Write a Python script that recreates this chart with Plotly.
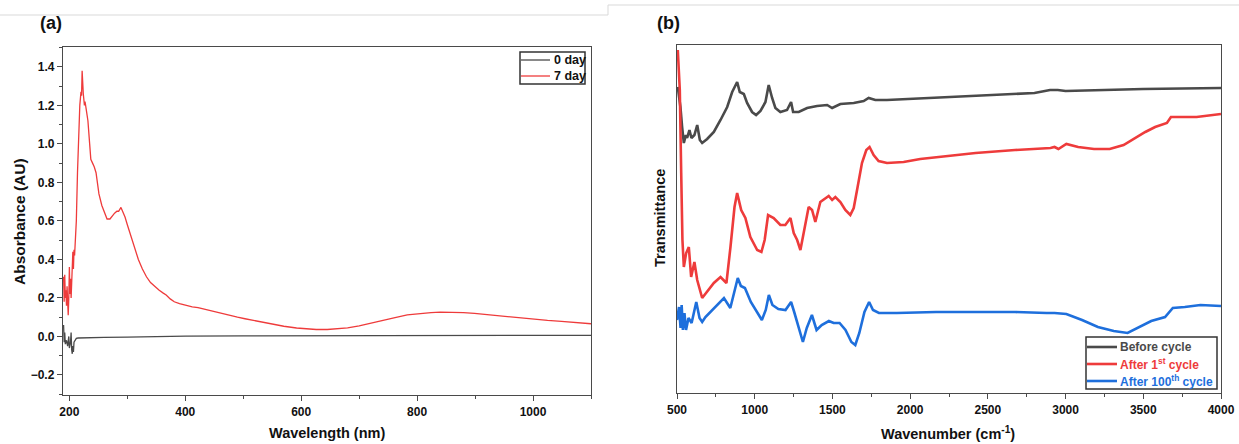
import plotly.graph_objects as go

# ---------------- Panel (a): UV-Vis absorbance ----------------
wl_0day = [190, 191, 192, 193, 195, 197, 199, 200, 202, 203, 204, 205, 206, 207, 208,
           210, 212, 215, 230, 260, 300, 340, 400, 500, 600, 700, 800, 900, 1000, 1100]
abs_0day = [0.06, -0.03, 0.02, -0.04, -0.02, -0.05, 0.0, -0.06, -0.03, 0.02, -0.07, -0.09,
            -0.05, -0.08, -0.03, -0.02, -0.01, -0.008, -0.006, -0.005, -0.003, 0.0, 0.002,
            0.003, 0.004, 0.005, 0.005, 0.006, 0.006, 0.006]

wl_7day = [190, 191, 192, 193, 194, 195, 196, 197, 198, 199, 200, 201, 202, 203, 204, 205,
           206, 207, 208, 209, 210, 212, 214, 216, 218, 220, 221, 222, 223, 224, 226, 227,
           229, 232, 235, 237, 240, 243, 246, 251, 256, 260, 265, 270, 275, 278, 282, 285,
           289, 292, 296, 300, 306, 312, 319, 326, 333, 340, 347, 355, 362, 367, 374, 381,
           390, 401, 412, 422, 435, 449, 462, 476, 490, 503, 520, 544, 570, 592, 610, 626,
           645, 660, 680, 700, 735, 760, 783, 805, 824, 840, 858, 880, 899, 925, 954, 980,
           1001, 1025, 1049, 1075, 1100]
abs_7day = [0.31, 0.18, 0.32, 0.20, 0.24, 0.16, 0.26, 0.12, 0.11, 0.20, 0.36, 0.22, 0.30,
            0.20, 0.28, 0.34, 0.44, 0.35, 0.45, 0.42, 0.47, 0.60, 0.85, 1.10, 1.20, 1.27,
            1.25, 1.38, 1.29, 1.26, 1.20, 1.22, 1.18, 1.12, 1.00, 0.92, 0.90, 0.88, 0.85,
            0.74, 0.68, 0.65, 0.61, 0.61, 0.63, 0.64, 0.65, 0.65, 0.67, 0.65, 0.62, 0.58,
            0.52, 0.46, 0.40, 0.35, 0.31, 0.28, 0.26, 0.24, 0.225, 0.215, 0.195, 0.18, 0.17,
            0.16, 0.154, 0.15, 0.14, 0.13, 0.118, 0.108, 0.10, 0.092, 0.082, 0.066, 0.053,
            0.044, 0.039, 0.036, 0.036, 0.039, 0.045, 0.055, 0.077, 0.096, 0.112, 0.12,
            0.124, 0.126, 0.126, 0.124, 0.12, 0.112, 0.102, 0.094, 0.088, 0.083, 0.078,
            0.072, 0.066]

# ---------------- Panel (b): FTIR transmittance (arbitrary units) ----------------
wn_before = [505, 522, 533, 544, 557, 565, 580, 593, 612, 630, 647, 662, 694, 737, 780, 823,
             855, 887, 904, 930, 951, 983, 1009, 1037, 1069, 1090, 1112, 1133, 1165, 1208,
             1234, 1247, 1283, 1337, 1401, 1466, 1498, 1551, 1637, 1701, 1733, 1776, 1851,
             2000, 2065, 2500, 2800, 2900, 2950, 3000, 3200, 3500, 4000]
t_before = [306, 286, 266, 250, 258, 255, 263, 255, 258, 268, 253, 250, 254, 261, 273, 286,
            301, 311, 301, 299, 290, 281, 278, 282, 291, 308, 295, 285, 281, 283, 291, 281,
            281, 285, 287, 288, 285, 289, 290, 292, 295, 293, 293, 294, 295, 298, 300, 303,
            303, 302, 303, 304, 305]

wn_1st = [505, 518, 527, 535, 544, 559, 576, 591, 612, 630, 662, 694, 737, 780, 818, 844,
          870, 887, 913, 940, 972, 1016, 1043, 1064, 1086, 1122, 1165, 1197, 1230, 1251,
          1273, 1294, 1320, 1347, 1369, 1390, 1422, 1448, 1476, 1498, 1519, 1551, 1583,
          1615, 1637, 1662, 1690, 1718, 1739, 1765, 1797, 1851, 1958, 2065, 2421, 2675,
          2903, 2929, 2954, 3005, 3081, 3183, 3284, 3373, 3436, 3513, 3576, 3652, 3678,
          3741, 3843, 4000]
t_1st = [343, 303, 220, 153, 126, 140, 146, 116, 131, 113, 95, 101, 110, 116, 110, 146,
         186, 200, 183, 175, 156, 143, 141, 153, 178, 175, 168, 168, 175, 160, 153, 143,
         166, 186, 183, 171, 191, 194, 197, 193, 196, 191, 183, 178, 185, 206, 230, 243,
         246, 238, 232, 230, 231, 234, 240, 243, 245, 246, 244, 249, 246, 244, 244, 248,
         254, 261, 266, 270, 276, 276, 276, 279]

wn_100th = [500, 513, 523, 530, 538, 548, 558, 574, 594, 624, 645, 662, 683, 746, 802, 843,
            873, 891, 911, 937, 975, 1013, 1046, 1071, 1091, 1114, 1152, 1198, 1234, 1254,
            1279, 1310, 1335, 1368, 1398, 1431, 1477, 1508, 1546, 1584, 1622, 1647, 1673,
            1706, 1736, 1761, 1799, 1914, 2167, 2421, 2675, 2878, 2929, 3005, 3106, 3208,
            3310, 3399, 3462, 3551, 3640, 3690, 3767, 3868, 4000]
t_100th = [73, 86, 65, 88, 63, 80, 63, 75, 70, 91, 75, 71, 76, 86, 95, 85, 103, 115, 107,
           105, 91, 81, 73, 83, 98, 88, 84, 83, 91, 81, 68, 51, 65, 78, 63, 68, 72, 70, 70,
           63, 51, 48, 60, 81, 91, 83, 80, 80, 81, 81, 81, 80, 80, 79, 73, 66, 62, 60, 65,
           72, 76, 85, 86, 88, 87]

a_xticks = [200, 400, 600, 800, 1000]
b_xticks = [500, 1000, 1500, 2000, 2500, 3000, 3500, 4000]

a_names = ["0 day", "7 day"]
b_names = ["Before cycle", "After 1<sup>st</sup> cycle", "After 100<sup>th</sup> cycle"]

GRAY = "#4a4a4a"
RED = "#ee3b3b"
BLUE = "#1e6fdc"
FONT = "Liberation Sans, Arial, sans-serif"
W, H = 1239, 444


def px_x(v):
    return v / W


def px_y(v):
    return 1 - v / H


fig = go.Figure()
series = [
    (wl_0day, abs_0day, a_names[0], GRAY, 1.3, "x", "y"),
    (wl_7day, abs_7day, a_names[1], RED, 1.3, "x", "y"),
    (wn_before, t_before, b_names[0], GRAY, 2.6, "x2", "y2"),
    (wn_1st, t_1st, b_names[1], RED, 2.6, "x2", "y2"),
    (wn_100th, t_100th, b_names[2], BLUE, 2.6, "x2", "y2"),
]
for xs, ys, nm, col, lw, xa, ya in series:
    fig.add_trace(go.Scatter(x=xs, y=ys, mode="lines", name=nm,
                             line=dict(color=col, width=lw), xaxis=xa, yaxis=ya,
                             showlegend=False))

axis_common = dict(showline=True, mirror=True, linecolor="#4a4a4a", linewidth=1.4,
                   showgrid=False, zeroline=False, automargin=False,
                   tickfont=dict(family=FONT, size=12, color="#111", weight="bold"))

fig.update_layout(
    width=W, height=H, autosize=False,
    margin=dict(l=0, r=0, t=0, b=0, autoexpand=False),
    paper_bgcolor="white", plot_bgcolor="white",
    showlegend=False,
    xaxis=dict(domain=[px_x(63), px_x(591)], range=[189, 1100], anchor="y",
               tickmode="array", tickvals=a_xticks, ticks="outside", ticklen=5,
               tickcolor="#4a4a4a", tickwidth=1.2,
               minor=dict(ticks="outside", ticklen=3, dtick=100, tick0=0,
                          tickcolor="#4a4a4a"),
               **axis_common),
    yaxis=dict(domain=[px_y(395), px_y(47)], range=[-0.304, 1.503], anchor="x",
               tick0=0, dtick=0.2, tickformat=".1f", ticks="outside", ticklen=5,
               tickcolor="#4a4a4a", tickwidth=1.2,
               minor=dict(ticks="outside", ticklen=3, dtick=0.1, tick0=0,
                          tickcolor="#4a4a4a"),
               **axis_common),
    xaxis2=dict(domain=[px_x(677), px_x(1221)], range=[500, 4000], anchor="y2",
                tickmode="array", tickvals=b_xticks, ticks="outside", ticklen=5,
                tickcolor="#4a4a4a", tickwidth=1.2,
                minor=dict(ticks="outside", ticklen=3, dtick=250, tick0=0,
                           tickcolor="#4a4a4a"),
                **axis_common),
    yaxis2=dict(domain=[px_y(393), px_y(45)], range=[0, 348], anchor="x2",
                showticklabels=False, ticks="",
                **axis_common),
)

ann_font = dict(family=FONT, size=14.5, color="#111", weight="bold")
annotations = [
    dict(text="(a)", x=px_x(38), y=px_y(23), xanchor="left", yanchor="middle",
         font=dict(family=FONT, size=18, color="#111", weight="bold")),
    dict(text="(b)", x=px_x(655), y=px_y(23), xanchor="left", yanchor="middle",
         font=dict(family=FONT, size=18, color="#111", weight="bold")),
    dict(text="Wavelength (nm)", x=px_x(327), y=px_y(433), xanchor="center",
         yanchor="middle", font=ann_font),
    dict(text="Absorbance (AU)", x=px_x(19), y=px_y(222), xanchor="center",
         yanchor="middle", textangle=-90,
         font=dict(family=FONT, size=15.5, color="#111", weight="bold")),
    dict(text="Wavenumber (cm<sup>-1</sup>)", x=px_x(948), y=px_y(433), xanchor="center",
         yanchor="middle", font=ann_font),
    dict(text="Transmittance", x=px_x(660), y=px_y(218), xanchor="center",
         yanchor="middle", textangle=-90, font=ann_font),
]

shapes = []
# ---- legend of panel (a) ----
shapes.append(dict(type="rect", x0=px_x(520), x1=px_x(585), y0=px_y(84), y1=px_y(52),
                   line=dict(color="#333", width=1.5), fillcolor="white"))
for i, (nm, col) in enumerate(zip(a_names, [GRAY, RED])):
    yy = 60 + 16 * i
    shapes.append(dict(type="line", x0=px_x(521), x1=px_x(550), y0=px_y(yy), y1=px_y(yy),
                       line=dict(color=col, width=1.3)))
    annotations.append(dict(text=nm, x=px_x(552), y=px_y(yy), xanchor="left",
                            yanchor="middle",
                            font=dict(family=FONT, size=12.5, color="#111", weight="bold")))
# ---- legend of panel (b) ----
shapes.append(dict(type="rect", x0=px_x(1086), x1=px_x(1217), y0=px_y(389), y1=px_y(337),
                   line=dict(color="#333", width=1.5), fillcolor="white"))
for i, (nm, col) in enumerate(zip(b_names, [GRAY, RED, BLUE])):
    yy = 347 + 17 * i
    shapes.append(dict(type="line", x0=px_x(1087), x1=px_x(1117), y0=px_y(yy), y1=px_y(yy),
                       line=dict(color=col, width=2.6)))
    annotations.append(dict(text=nm, x=px_x(1118), y=px_y(yy), xanchor="left",
                            yanchor="middle",
                            font=dict(family=FONT, size=12, color=col, weight="bold")))

for a in annotations:
    a.update(xref="paper", yref="paper", showarrow=False)

# faint page-border lines seen at the top of the reference
shapes.append(dict(type="path",
                   path=f"M 0 {px_y(15)} L {px_x(608)} {px_y(15)} L {px_x(608)} {px_y(5)} L 1 {px_y(5)}",
                   line=dict(color="#d9d9d9", width=1)))
for s in shapes:
    s.update(xref="paper", yref="paper")

fig.update_layout(annotations=annotations, shapes=shapes)

fig.write_html("out.html")
